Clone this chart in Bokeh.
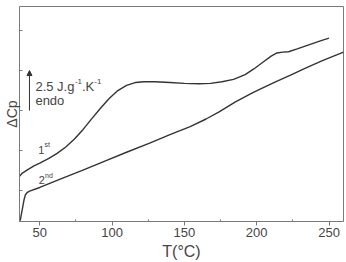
from bokeh.plotting import figure
from bokeh.models import Range1d, FixedTicker, Label, Arrow, NormalHead
from bokeh.embed import file_html
from bokeh.resources import INLINE

# DSC heat-capacity traces, first and second heating (y in units of one tick = 2.5 J/g/K)
t_first = [36.0, 38, 42, 46, 50, 56, 62, 68, 74, 80, 86, 92, 98, 104, 110, 116, 122,
           130, 140, 150, 160, 168, 176, 184, 192, 198, 204, 210, 214, 218, 222,
           228, 236, 244, 250]
cp_first = [1.36, 1.44, 1.53, 1.62, 1.69, 1.80, 1.93, 2.09, 2.29, 2.53, 2.80, 3.06,
            3.30, 3.50, 3.63, 3.70, 3.72, 3.72, 3.70, 3.68, 3.67, 3.68, 3.72, 3.78,
            3.90, 4.04, 4.20, 4.36, 4.44, 4.46, 4.47, 4.54, 4.64, 4.74, 4.81]

t_second = [36.5, 37.5, 38.3, 39.2, 40.1, 41.5, 43, 50, 56, 65, 79, 95, 110, 126,
            140, 154, 165, 174, 185, 197, 206, 213, 223, 233, 245, 260]
cp_second = [0.25, 0.45, 0.61, 0.78, 0.90, 0.96, 0.99, 1.08, 1.17, 1.30, 1.50, 1.74,
             1.96, 2.19, 2.40, 2.60, 2.79, 2.97, 3.21, 3.44, 3.60, 3.72, 3.88, 4.05,
             4.24, 4.46]

x_ticks = [50, 100, 150, 200, 250]
x_minor = [75, 125, 175, 225]
y_ticks = [1, 2, 3, 4, 5]

FONT = "Liberation Sans"
TXT = "#444444"
LINE = "#333333"
FRAME = "#7a7a7a"

p = figure(width=346, height=262, output_backend="svg", toolbar_location=None,
           x_range=Range1d(36, 260), y_range=Range1d(0.23, 5.6),
           min_border_left=19, min_border_right=3, min_border_top=6,
           min_border_bottom=40)
p.background_fill_color = "white"
p.border_fill_color = "white"
p.grid.visible = False
p.outline_line_color = FRAME
p.outline_line_width = 1

p.line(t_first, cp_first, line_color=LINE, line_width=1.4)
p.line(t_second, cp_second, line_color=LINE, line_width=1.4)

xa = p.xaxis[0]
xa.ticker = FixedTicker(ticks=x_ticks, minor_ticks=x_minor)
xa.axis_label = "T(°C)"
xa.axis_label_text_font = FONT
xa.axis_label_text_font_style = "normal"
xa.axis_label_text_font_size = "16px"
xa.axis_label_text_color = TXT
xa.axis_label_standoff = 3
xa.major_label_text_font = FONT
xa.major_label_text_font_size = "13px"
xa.major_label_text_color = TXT
xa.major_label_standoff = 2
xa.major_tick_out = 4
xa.major_tick_in = 0
xa.minor_tick_in = 2
xa.minor_tick_out = 0
xa.axis_line_color = FRAME
xa.major_tick_line_color = FRAME
xa.minor_tick_line_color = FRAME

ya = p.yaxis[0]
ya.ticker = FixedTicker(ticks=y_ticks, minor_ticks=[])
ya.axis_label = "ΔCp"
ya.axis_label_text_font = FONT
ya.axis_label_text_font_style = "normal"
ya.axis_label_text_font_size = "14px"
ya.axis_label_text_color = TXT
ya.axis_label_standoff = 0
ya.major_label_text_color = None
ya.major_label_text_font_size = "1px"
ya.major_label_standoff = 0
ya.major_tick_in = 3
ya.major_tick_out = 0
ya.minor_tick_in = 0
ya.minor_tick_out = 0
ya.axis_line_color = FRAME
ya.major_tick_line_color = FRAME

# scale bar: one tick = 2.5 J/g/K, endothermic up
p.add_layout(Arrow(x_start=42.9, y_start=3.0, x_end=42.9, y_end=4.0,
                   line_color=LINE, line_width=1,
                   end=NormalHead(size=5, fill_color=LINE, line_color=LINE)))


def add_text(x, y, s, size, dx=0, dy=0):
    p.add_layout(Label(x=x, y=y, text=s, x_offset=dx, y_offset=dy,
                       text_font=FONT, text_font_size=size, text_color=TXT,
                       text_baseline="alphabetic", text_align="left"))


add_text(47.0, 3.59, "2.5 J.g", "13px")
add_text(47.0, 3.59, "-1", "8px", dx=39.5, dy=5)
add_text(47.0, 3.59, ".K", "13px", dx=46.6)
add_text(47.0, 3.59, "-1", "8px", dx=58.9, dy=5)
add_text(47.0, 3.26, "endo", "13px")

add_text(48.9, 2.02, "1", "11px")
add_text(48.9, 2.02, "st", "7px", dx=6.3, dy=5)
add_text(49.3, 1.26, "2", "11px")
add_text(49.3, 1.26, "nd", "7px", dx=6.3, dy=5)

open("out.html", "w").write(file_html(p, INLINE))
